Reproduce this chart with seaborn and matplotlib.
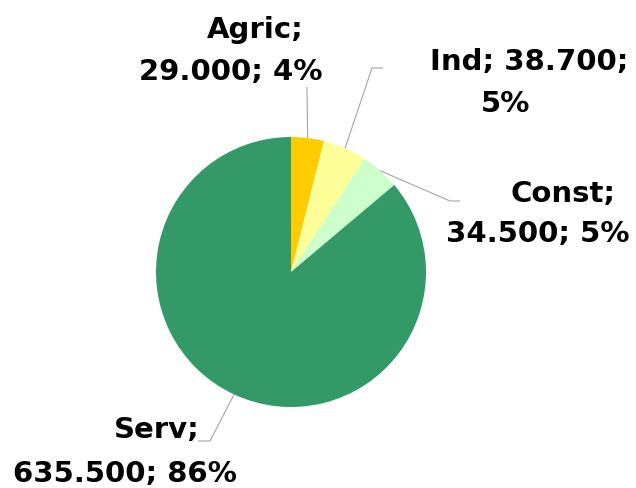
import numpy as np
import matplotlib
matplotlib.use("Agg")
import matplotlib.pyplot as plt
import seaborn as sns

categories = ["Agric", "Ind", "Const", "Serv"]
values = [29000, 38700, 34500, 635500]
value_labels = ["29.000", "38.700", "34.500", "635.500"]
colors = ["#FFCC00", "#FFFF99", "#CCFFCC", "#339966"]

sns.set_theme(style="white")
plt.rcParams["font.family"] = ["DejaVu Sans"]

W, H = 636, 489
fig = plt.figure(figsize=(W / 100, H / 100), dpi=100)
ax = fig.add_axes([0, 0, 1, 1])

cx, cy, r = 291, H - 273, 135
wedges, _ = ax.pie(values, colors=colors, startangle=90, counterclock=False,
                   center=(cx, cy), radius=r, frame=True,
                   wedgeprops=dict(linewidth=0))
ax.set_xlim(0, W)
ax.set_ylim(0, H)
ax.axis("off")

total = sum(values)
pcts = [round(v / total * 100) for v in values]

# label layout (pixel coords: elbow, end of leader, text line centers/baselines)
elbows = [(307, 88), (372, 69), (450, 202), (210, 442)]
ends = [(307, 88), (383, 69), (460, 202), (198, 442)]
line1_pos = [(255, 38), (529, 70), (563, 202), (157, 438)]
line2_pos = [(231, 80), (505, 112), (538, 242), (125, 482)]
line1_txt = [f"{categories[0]};", f"{categories[1]}; {value_labels[1]};", f"{categories[2]};", f"{categories[3]};"]
line2_txt = [f"{value_labels[0]}; {pcts[0]}%", f"{pcts[1]}%", f"{value_labels[2]}; {pcts[2]}%", f"{value_labels[3]}; {pcts[3]}%"]

for i, w in enumerate(wedges):
    ang = np.deg2rad((w.theta1 + w.theta2) / 2)
    sx, sy = cx + r * np.cos(ang), cy + r * np.sin(ang)
    ex, ey = elbows[i]
    fx, fy = ends[i]
    ax.plot([sx, ex, fx], [sy, H - ey, H - fy], color="#A6A6A6", lw=0.8,
            solid_capstyle="butt")
    for (tx, ty), t in ((line1_pos[i], line1_txt[i]), (line2_pos[i], line2_txt[i])):
        ax.text(tx, H - ty, t, ha="center", va="baseline", fontsize=21,
                fontweight="bold", color="black")

fig.savefig("out.png", dpi=100)
